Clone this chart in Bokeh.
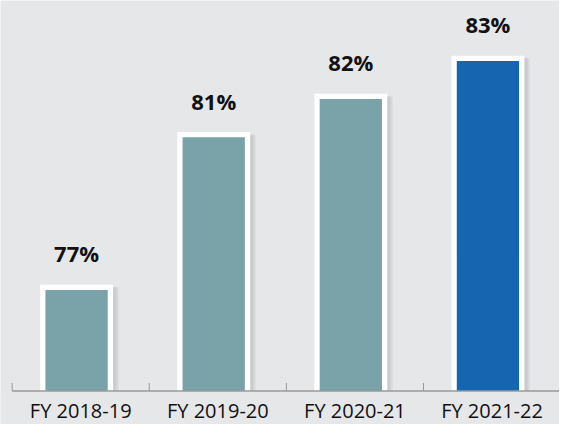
from bokeh.plotting import figure
from bokeh.models import Range1d, ColumnDataSource
from bokeh.embed import file_html
from bokeh.resources import INLINE
from bokeh.core.properties import value

categories = ["FY 2018-19", "FY 2019-20", "FY 2020-21", "FY 2021-22"]
percentages = [77, 81, 82, 83]
bar_colors = ["#7aa3a9", "#7aa3a9", "#7aa3a9", "#1565b0"]
value_labels = ["77%", "81%", "82%", "83%"]

W, H = 559, 424
BG = "#e6e7e9"
AXIS = "#9a9a9a"
X0, X1 = -0.585, 3.492                # x range (category units)
Y0, BASE, Y1 = 73.406, 74.286, 84.514  # y range start, baseline, end
PX_PER_UNIT_Y = H / (Y1 - Y0)

pos = list(range(len(categories)))
bar_x = [i - 0.03 for i in pos]
shadow_x = [i - 0.005 for i in pos]
bounds = [i - 0.5 for i in pos]

src = ColumnDataSource(dict(x=bar_x, sx=shadow_x, top=percentages,
                            color=bar_colors, lab=value_labels))

p = figure(width=W, height=H, output_backend="svg", toolbar_location=None,
           x_range=Range1d(X0, X1), y_range=Range1d(Y0, Y1),
           min_border_left=0, min_border_right=0, min_border_top=0,
           min_border_bottom=0)
p.background_fill_color = BG
p.border_fill_color = BG
p.outline_line_color = None
p.grid.visible = False
p.xaxis.visible = False
p.yaxis.visible = False

# soft shadow
p.vbar(x="sx", top="top", bottom=Y0 - 1, width=0.56, source=src,
       fill_color="#000000", fill_alpha=0.06, line_color=None)
p.vbar(x="sx", top="top", bottom=Y0 - 1, width=0.53, source=src,
       fill_color="#000000", fill_alpha=0.06, line_color=None)
# bars with white frame
p.vbar(x="x", top="top", bottom=Y0 - 1, width=0.493, source=src,
       fill_color="color", line_color="white", line_width=5.3,
       line_join="miter")
# cover below the baseline
p.quad(left=X0, right=X1, bottom=Y0 - 1, top=BASE,
       fill_color=BG, line_color=None)

# axis line and tick marks
p.segment(x0=[bounds[0]], y0=[BASE], x1=[X1], y1=[BASE],
          line_color=AXIS, line_width=1.5)
tick_len = 8 / PX_PER_UNIT_Y
p.segment(x0=bounds, y0=[BASE] * len(bounds), x1=bounds,
          y1=[BASE + tick_len] * len(bounds), line_color=AXIS, line_width=1)

# category labels
p.text(x=pos, y=[BASE] * len(pos), text=categories, y_offset=20,
       text_align="center", text_baseline="alphabetic",
       text_font=value("Open Sans"), text_font_size="20px",
       text_color="#111111")

# value labels
p.text(x="x", y="top", text="lab", source=src, y_offset=-34,
       text_align="center", text_baseline="alphabetic",
       text_font=value("Open Sans"), text_font_style="bold",
       text_font_size="22px", text_color="#111111")

html = file_html(p, INLINE)
html = html.replace("<body>", '<body style="background-color:%s;">' % BG, 1)
open("out.html", "w").write(html)
